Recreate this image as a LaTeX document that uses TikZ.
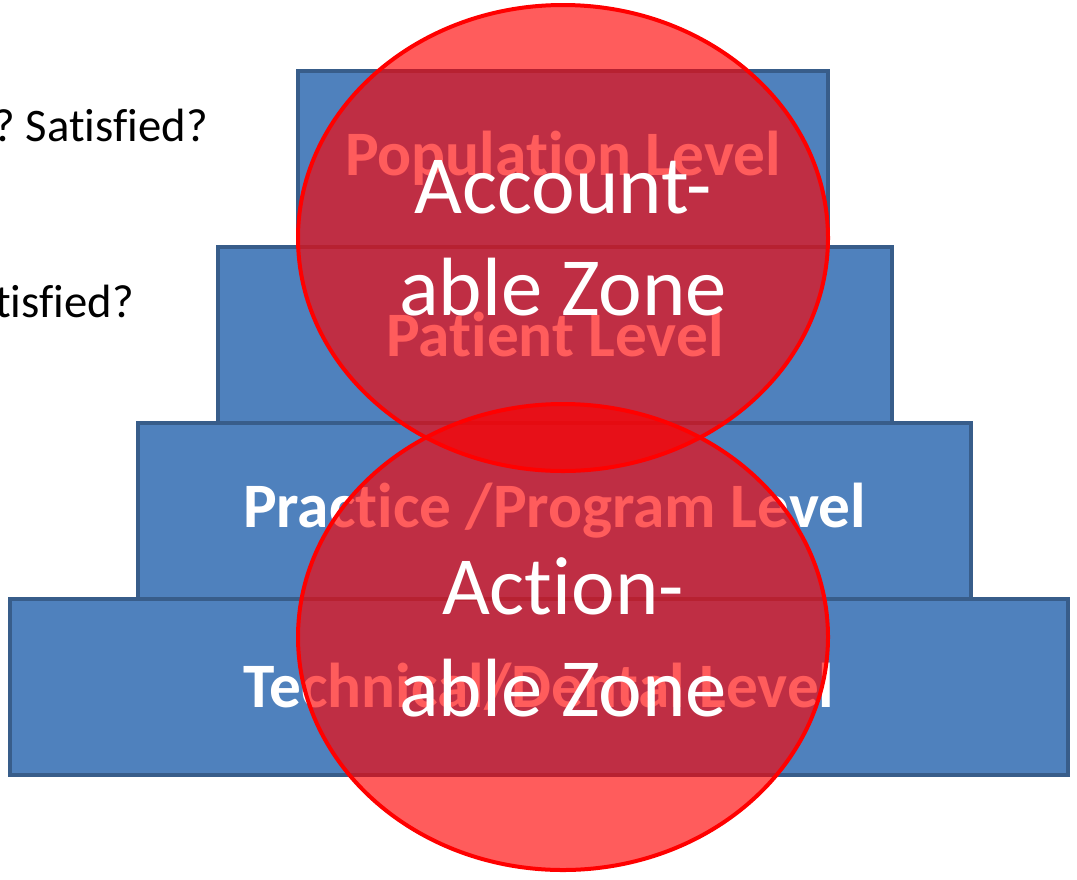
\documentclass[tikz,border=0pt]{standalone}
\usepackage{fontspec}
\setmainfont{Carlito}[Ligatures={NoCommon,NoContextual,NoRare},Contextuals=NoAlternate]
\usetikzlibrary{shapes.geometric}
\definecolor{lvlfill}{RGB}{79,129,189}
\definecolor{lvlline}{RGB}{56,93,138}
\frenchspacing
\begin{document}
\begin{tikzpicture}[x=0.75pt,y=0.75pt,yscale=-1,xscale=1,
  levelbox/.style={draw=lvlline, line width=3pt, fill=lvlfill, text=white, inner sep=0pt, minimum height=132pt, font=\fontsize{47.5}{57}\selectfont\bfseries},
  zone/.style={ellipse, draw=red, line width=3pt, fill=red, fill opacity=0.64, text opacity=1, text=white, inner sep=0pt, minimum width=397.5pt, minimum height=349.5pt, align=center, font=\fontsize{62}{76.5}\selectfont},
  question/.style={anchor=base east, inner sep=0pt, font=\fontsize{35}{42}\selectfont}]
\useasboundingbox (0,0) rectangle (1077,879);

% Text Node
\node (q1) [question] at (208,141) {? Satisfied?};
% Text Node
\node (q2) [question] at (134,317) {tisfied?};

%Shape: Rectangle
\node (pop) [levelbox, minimum width=397.5pt] at (563,158.5) {Population Level};
%Shape: Rectangle
\node (pat) [levelbox, minimum width=505.5pt] at (555,335) {Patient Level};
%Shape: Rectangle
\node (prac) [levelbox, minimum width=624.75pt] at (554.5,510.5) {Practice /Program Level};
%Shape: Rectangle
\node (tech) [levelbox, minimum width=793.5pt] at (539,686.5) {Technical/Dental Level};

%Shape: Ellipse
\node (acct) [zone] at (563,238) {Account-\\able Zone};
%Shape: Ellipse
\node (act) [zone] at (563,637) {Action-\\able Zone};
\end{tikzpicture}
\end{document}
